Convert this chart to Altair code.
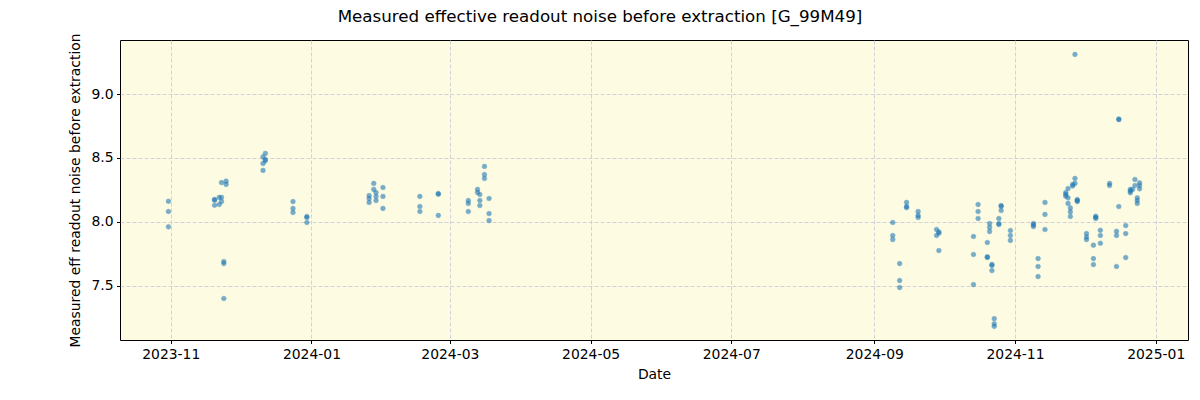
import altair as alt
import pandas as pd

dates = (
    ["2023-10-31"] * 3 + ["2023-11-20"] * 3 + ["2023-11-22"] * 2 + ["2023-11-23"] * 3 +
    ["2023-11-24"] * 3 + ["2023-11-25"] * 2 + ["2023-12-11"] * 3 + ["2023-12-12"] * 3 +
    ["2023-12-24"] * 3 + ["2023-12-30"] * 3 + ["2024-01-26"] * 3 + ["2024-01-28"] * 2 +
    ["2024-01-29"] * 3 + ["2024-02-01"] * 3 + ["2024-02-17"] * 3 + ["2024-02-25"] * 3 +
    ["2024-03-09"] * 3 + ["2024-03-13"] * 2 + ["2024-03-14"] * 3 + ["2024-03-16"] * 3 +
    ["2024-03-18"] * 3 + ["2024-09-09"] * 3 + ["2024-09-12"] * 3 + ["2024-09-15"] * 3 +
    ["2024-09-20"] * 3 + ["2024-09-28"] * 2 + ["2024-09-29"] * 3 + ["2024-10-14"] * 3 +
    ["2024-10-16"] * 3 + ["2024-10-20"] * 3 + ["2024-10-21"] * 3 + ["2024-10-22"] * 3 +
    ["2024-10-23"] * 3 + ["2024-10-25"] * 3 + ["2024-10-26"] * 3 + ["2024-10-30"] * 3 +
    ["2024-11-09"] * 3 + ["2024-11-11"] * 3 + ["2024-11-14"] * 3 + ["2024-11-23"] * 3 +
    ["2024-11-24"] * 3 + ["2024-11-25"] * 3 + ["2024-11-26"] * 2 + ["2024-11-27"] * 3 +
    ["2024-11-28"] * 3 + ["2024-12-02"] * 3 + ["2024-12-05"] * 3 + ["2024-12-06"] * 3 +
    ["2024-12-08"] * 3 + ["2024-12-12"] * 2 + ["2024-12-15"] * 3 + ["2024-12-16"] * 3 +
    ["2024-12-19"] * 3 + ["2024-12-21"] * 3 + ["2024-12-22"] * 1 + ["2024-12-23"] * 2 +
    ["2024-12-24"] * 3 + ["2024-12-25"] * 3
)

values = [
    8.16, 8.08, 7.96,
    8.174, 8.129, 8.169,
    8.19, 8.135,
    8.19, 8.158, 8.307,
    7.688, 7.672, 7.398,
    8.318, 8.292,
    8.402, 8.456, 8.508,
    8.535, 8.488, 8.477,
    8.158, 8.104, 8.072,
    8.041, 8.033, 7.994,
    8.205, 8.182, 8.151,
    8.30, 8.253,
    8.229, 8.198, 8.166,
    8.268, 8.198, 8.104,
    8.198, 8.119, 8.080,
    8.221, 8.215, 8.049,
    8.166, 8.143, 8.080,
    8.253, 8.229,
    8.213, 8.166, 8.127,
    8.433, 8.370, 8.339,
    8.182, 8.064, 8.009,
    7.994, 7.892, 7.86,
    7.672, 7.539, 7.484,
    8.151, 8.119, 8.11,
    8.08, 8.049, 8.033,
    7.939, 7.892,
    7.92, 7.774, 7.91,
    7.884, 7.743, 7.507,
    8.135, 8.08, 8.025,
    7.837, 7.724, 7.72,
    7.986, 7.955, 7.923,
    7.657, 7.617, 7.665,
    7.24, 7.2, 7.18,
    8.025, 7.978, 7.985,
    8.127, 8.088, 8.12,
    7.931, 7.892, 7.853,
    7.986, 7.962, 7.975,
    7.711, 7.649, 7.57,
    8.151, 8.057, 7.939,
    8.229, 8.2, 8.215,
    8.26, 8.187, 8.143,
    8.108, 8.077, 8.041,
    8.292, 8.28,
    9.311, 8.339, 8.30,
    8.174, 8.158, 8.165,
    7.907, 7.88, 7.86,
    7.816, 7.711, 7.664,
    8.043, 8.025, 8.035,
    7.933, 7.892, 7.831,
    8.30, 8.284,
    7.925, 7.892, 7.649,
    8.80, 8.805, 8.119,
    7.97, 7.907, 7.719,
    8.253, 8.227, 8.24,
    8.253,
    8.331, 8.284,
    8.187, 8.166, 8.143,
    8.305, 8.284, 8.258,
]

tick_months = ["2023-11-01", "2024-01-01", "2024-03-01", "2024-05-01",
               "2024-07-01", "2024-09-01", "2024-11-01", "2025-01-01"]
y_ticks = [7.5, 8.0, 8.5, 9.0]

df = pd.DataFrame({"date": dates, "value": values})


def dt(s):
    y, m, d = (int(p) for p in s.split("-"))
    return alt.DateTime(year=y, month=m, date=d, utc=True)


font = "DejaVu Sans"

chart = (
    alt.Chart(df)
    .mark_circle(size=22, opacity=0.6, color="#1f77b4", stroke="#1f77b4", strokeWidth=0.6)
    .encode(
        x=alt.X(
            "date:T",
            title="Date",
            scale=alt.Scale(type="utc", domain=[dt("2023-10-10"), dt("2025-01-15")], nice=False),
            axis=alt.Axis(
                values=[dt(s) for s in tick_months],
                labelExpr="utcFormat(datum.value, '%Y-%m')",
                grid=True,
                labelAngle=0,
            ),
        ),
        y=alt.Y(
            "value:Q",
            title="Measured eff readout noise before extraction",
            scale=alt.Scale(domain=[7.073, 9.424], nice=False, zero=False),
            axis=alt.Axis(values=y_ticks, format=".1f", grid=True),
        ),
    )
    .properties(
        width=1068,
        height=300,
        autosize=alt.AutoSizeParams(type="none"),
        padding={"left": 120, "top": 40, "right": 12, "bottom": 60},
        title=alt.TitleParams(
            "Measured effective readout noise before extraction [G_99M49]",
            font=font, fontSize=16.7, fontWeight="normal", color="black",
            dx=-54, offset=7, anchor="middle",
        ),
        background="white",
    )
    .configure_view(fill="#fdfce3", stroke="black", strokeWidth=1)
    .configure_axis(
        labelFont=font, labelFontSize=13.9, labelColor="black",
        titleFont=font, titleFontSize=13.9, titleFontWeight="normal", titleColor="black",
        domain=False, tickColor="black", tickSize=3.5, labelPadding=3.5,
        gridColor="#c8c8d4", gridDash=[4, 2], gridWidth=0.8,
    )
    .configure_axisX(titlePadding=7)
    .configure_axisY(titlePadding=8)
)

chart.save("out.html", embed_options={"renderer": "svg", "actions": False})
